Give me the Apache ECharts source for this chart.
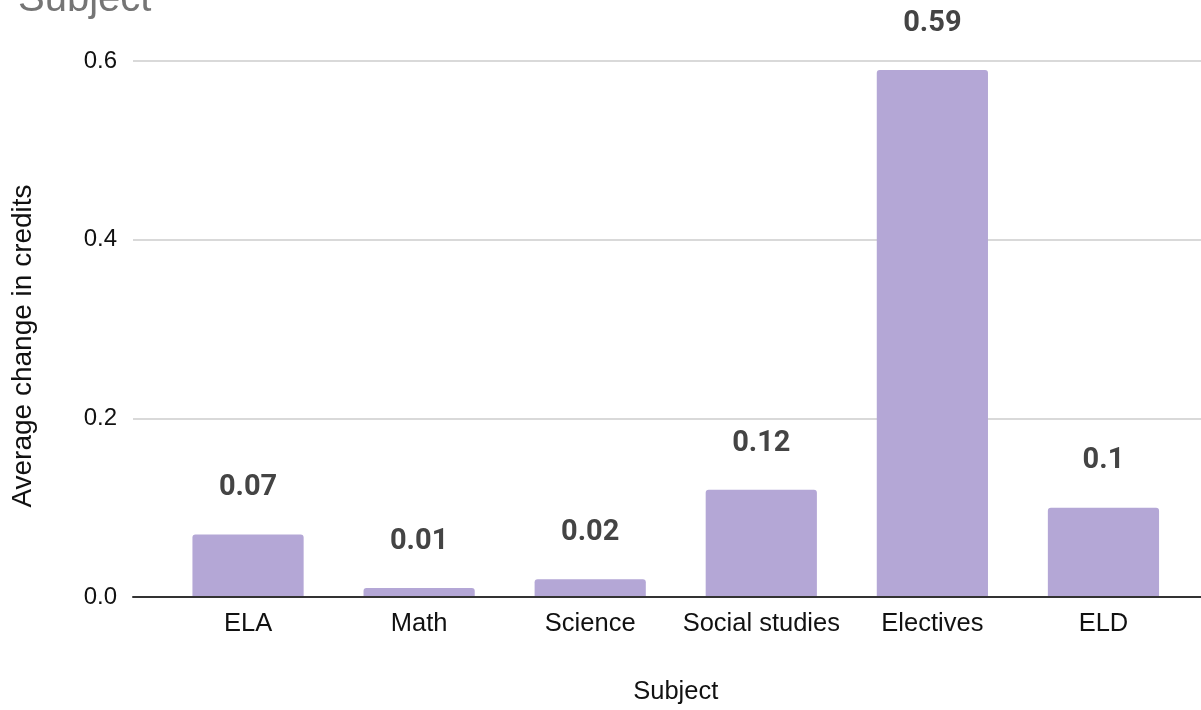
<!DOCTYPE html>
<html>
<head>
<meta charset="utf-8">
<script src="https://cdn.jsdelivr.net/npm/echarts@6/dist/echarts.min.js"></script>
<style>
  html, body { margin: 0; padding: 0; background: #ffffff; }
  #chart { width: 1201px; height: 710px; }
</style>
</head>
<body>
<div id="chart"></div>
<script>
// Average change in credits by subject
const subjects = ['ELA', 'Math', 'Science', 'Social studies', 'Electives', 'ELD'];
const creditChange = [0.07, 0.01, 0.02, 0.12, 0.59, 0.1];
const yTicks = [0, 0.2, 0.4, 0.6];

const axisFont = 'Liberation Sans, Arial, Helvetica, sans-serif';
const plotTop = 61;
const plotBottom = 113;

const chart = echarts.init(document.getElementById('chart'), null, { renderer: 'canvas' });

chart.setOption({
  animation: false,
  backgroundColor: '#ffffff',
  title: {
    text: 'Subject',
    left: 13,
    top: -25,
    textStyle: { fontFamily: axisFont, fontSize: 40, fontWeight: 'normal', color: '#757575' }
  },
  grid: [
    // frame for the value axis, gridlines and baseline
    { left: 133, right: 0, top: plotTop, bottom: plotBottom, containLabel: false },
    // bars sit in a slightly inset band
    { left: 162.5, right: 12, top: plotTop, bottom: plotBottom, containLabel: false }
  ],
  xAxis: [
    {
      gridIndex: 0,
      type: 'value',
      min: 0,
      max: 1,
      axisLine: { show: true, onZero: false, lineStyle: { color: '#333333', width: 2 } },
      axisTick: { show: false },
      axisLabel: { show: false },
      splitLine: { show: false },
      z: 5
    },
    {
      gridIndex: 1,
      type: 'category',
      data: subjects,
      axisLine: { show: false },
      axisTick: { show: false },
      axisLabel: {
        interval: 0,
        margin: 14,
        fontFamily: axisFont,
        fontSize: 25.5,
        color: '#111111'
      },
      name: 'Subject',
      nameLocation: 'middle',
      nameGap: 82,
      nameTextStyle: { fontFamily: axisFont, fontSize: 25.5, color: '#111111' }
    }
  ],
  yAxis: [
    {
      gridIndex: 0,
      type: 'value',
      min: yTicks[0],
      max: yTicks[yTicks.length - 1],
      interval: 0.2,
      axisLine: { show: false },
      axisTick: { show: false },
      axisLabel: {
        margin: 16,
        fontFamily: axisFont,
        fontSize: 24,
        color: '#111111',
        formatter: v => v.toFixed(1)
      },
      splitLine: { show: true, lineStyle: { color: '#cccccc', width: 1.5 } },
      name: 'Average change in credits',
      nameLocation: 'middle',
      nameGap: 96,
      nameTextStyle: {
        fontFamily: axisFont,
        fontSize: 28,
        color: '#111111',
        padding: [0, 34, 0, 0]
      }
    },
    {
      gridIndex: 1,
      type: 'value',
      min: yTicks[0],
      max: yTicks[yTicks.length - 1],
      interval: 0.2,
      show: false
    }
  ],
  series: [
    {
      type: 'bar',
      xAxisIndex: 1,
      yAxisIndex: 1,
      data: creditChange,
      barWidth: '65%',
      itemStyle: { color: '#b4a7d6', borderRadius: [3, 3, 0, 0] },
      label: {
        show: true,
        position: 'top',
        distance: 32,
        fontFamily: 'Roboto, sans-serif',
        fontWeight: 'bold',
        fontSize: 29,
        color: '#444444'
      },
      z: 3
    }
  ]
});
</script>
</body>
</html>
